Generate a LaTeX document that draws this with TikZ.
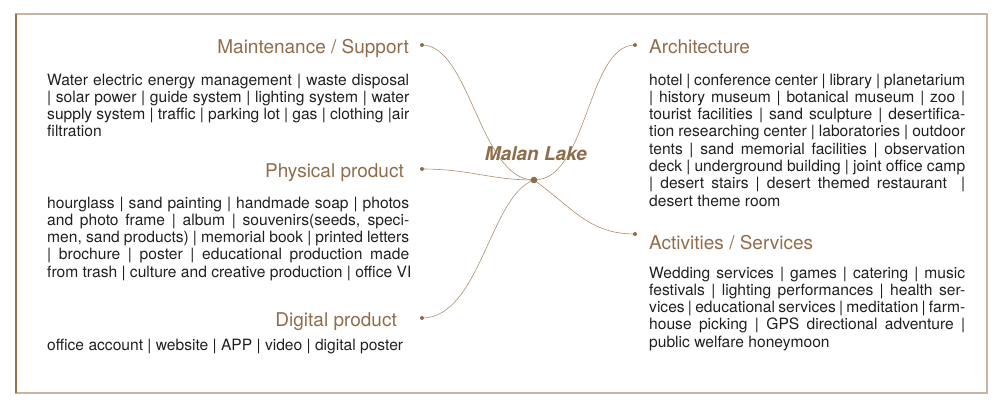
\documentclass[tikz,border=0pt]{standalone}
\usepackage{fontspec}
\setmainfont{TeX Gyre Heros}
\usepackage{tikz}

\definecolor{lakebrown}{HTML}{8F6D4C}
\definecolor{linkbrown}{HTML}{AA8E72}
\definecolor{framelight}{HTML}{C6B5A2}
\definecolor{framedark}{HTML}{9A7149}
\definecolor{bodyink}{HTML}{231F20}

\tikzset{
  head/.style={inner sep=0pt, text=lakebrown, font=\fontsize{19}{22}\selectfont},
  body/.style={inner sep=0pt, text=bodyink, align=justify, font=\fontsize{15.6}{17.3}\selectfont},
  link/.style={linkbrown, line width=0.6pt},
}

\begin{document}
\begin{tikzpicture}[x=1pt,y=-1pt]
\useasboundingbox (0,0) rectangle (1000,404);

\coordinate (O) at (534,180);
\coordinate (M) at (422,45);
\coordinate (P) at (422,169);
\coordinate (D) at (422,318);
\coordinate (A) at (635,45);
\coordinate (S) at (635,234);

% frame
\draw[framelight, line width=1.3pt] (16,14) rectangle (987,393);
\draw[framedark, line width=1.3pt] (16,14) -- (16,393);

% branches
\draw[link] (O) .. controls (480,180) and (470,45) .. (M);
\draw[link] (O) .. controls (490,180) and (470,169) .. (P);
\draw[link] (O) .. controls (490,195) and (480,318) .. (D);
\draw[link] (O) .. controls (588,180) and (587,45) .. (A);
\draw[link] (O) .. controls (575,210) and (590,234) .. (S);

\fill[lakebrown] (O) circle (3.3pt);
\foreach \p in {M,P,D,A,S}
  \fill[lakebrown] (\p) circle (2pt);

\node[head, anchor=base, font=\fontsize{19}{22}\selectfont\bfseries\itshape] (lake) at (536,160) {Malan Lake};

% left side
\node[head, anchor=base east] (maint) at (409,54) {Maintenance / Support};
\node[body, text width=362pt, anchor=base west] (mainttext) at (47,85) {Water electric energy management | waste disposal\linebreak
| solar power | guide system | lighting system | water\linebreak
supply system | traffic | parking lot | gas | clothing |air\linebreak
filtration};

\node[head, anchor=base east] (phys) at (404,177) {Physical product};
\node[body, text width=362pt, anchor=base west] (phystext) at (47,208) {hourglass | sand painting | handmade soap | photos\linebreak
and photo frame | album | souvenirs(seeds, speci-\linebreak
men, sand products) | memorial book | printed letters\linebreak
| brochure | poster | educational production made\linebreak
\mbox{from trash | culture and creative production | office VI}};

\node[head, anchor=base east] (digi) at (397,326) {Digital product};
\node[body, anchor=base west] (digitext) at (47,350) {office account | website | APP | video | digital poster};

% right side
\node[head, anchor=base west] (arch) at (649,53.5) {Architecture};
\node[body, text width=316pt, anchor=base west] (archtext) at (649,85) {hotel | conference center | library | planetarium\linebreak
| history museum | botanical museum | zoo |\linebreak
tourist facilities | sand sculpture | desertifica-\linebreak
tion researching center | laboratories | outdoor\linebreak
tents | sand memorial facilities | observation\linebreak
deck | underground building | joint office camp\linebreak
| desert stairs | desert themed restaurant \ |\linebreak
desert theme room};

\node[head, anchor=base west] (acti) at (649,249) {Activities / Services};
\node[body, text width=316pt, anchor=base west] (actitext) at (649,278) {Wedding services | games | catering | music\linebreak
festivals | lighting performances | health ser-\linebreak
vices | educational services | meditation | farm-\linebreak
house picking | GPS directional adventure |\linebreak
public welfare honeymoon};
\end{tikzpicture}
\end{document}
